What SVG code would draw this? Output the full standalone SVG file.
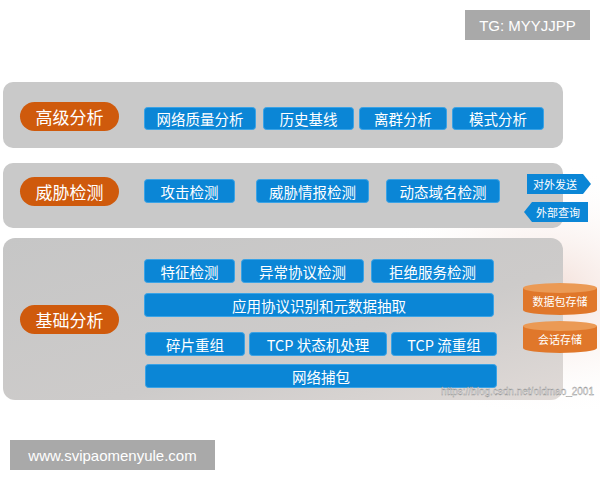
<svg xmlns="http://www.w3.org/2000/svg" width="600" height="480" viewBox="0 0 600 480">
<defs>
<style>
.panel{fill:#c9c9c9}
.pill{fill:#cf5a0c}
.box{fill:#0b86d6;stroke:#3aa3e6;stroke-width:1}
.t{font-family:"Noto Sans CJK SC","Noto Sans",sans-serif;fill:#fff;text-anchor:middle;dominant-baseline:central}
.big{font-size:17px}
.mid{font-size:14.5px}
.sm{font-size:11px}
.wm{font-family:"Liberation Sans",Arial,sans-serif;fill:#fff;text-anchor:middle;dominant-baseline:central;font-size:15px}
.cyl{fill:#e0772a}
.cyltop{fill:#eb9a55}
</style>
<linearGradient id="p3" x1="0" y1="0" x2="1" y2="1">
<stop offset="0" stop-color="#c6c6c6"/>
<stop offset="0.6" stop-color="#cdcbca"/>
<stop offset="1" stop-color="#e0dad7"/>
</linearGradient>
<radialGradient id="bg" cx="0.85" cy="0.55" r="0.5">
<stop offset="0" stop-color="#f2ddd6"/>
<stop offset="1" stop-color="#ffffff" stop-opacity="0"/>
</radialGradient>
</defs>
<rect width="600" height="480" fill="#fff"/>
<rect x="250" y="150" width="350" height="260" fill="url(#bg)"/>

<g id="panel-advanced">
<rect class="panel" x="3" y="82" width="560" height="66" rx="10"/>
<g id="pill-advanced"><rect class="pill" x="20" y="102" width="99" height="29" rx="14.5"/><text class="t big" x="69.5" y="116.5">高级分析</text></g>
<g id="n-net-quality"><rect class="box" x="144.5" y="107.5" width="111" height="22" rx="3"/><text class="t mid" x="200" y="118.5">网络质量分析</text></g>
<g id="n-history"><rect class="box" x="263.5" y="107.5" width="90" height="22" rx="3"/><text class="t mid" x="308.5" y="118.5">历史基线</text></g>
<g id="n-outlier"><rect class="box" x="359.5" y="107.5" width="87" height="22" rx="3"/><text class="t mid" x="403" y="118.5">离群分析</text></g>
<g id="n-pattern"><rect class="box" x="452.5" y="107.5" width="91" height="22" rx="3"/><text class="t mid" x="498" y="118.5">模式分析</text></g>
</g>

<g id="panel-threat">
<rect class="panel" x="3" y="163" width="560" height="65" rx="10"/>
<g id="pill-threat"><rect class="pill" x="20" y="177" width="99" height="29" rx="14.5"/><text class="t big" x="69.5" y="191.5">威胁检测</text></g>
<g id="n-attack"><rect class="box" x="144.5" y="179.5" width="90" height="23" rx="3"/><text class="t mid" x="189.5" y="191">攻击检测</text></g>
<g id="n-intel"><rect class="box" x="256.5" y="179.5" width="112" height="23" rx="3"/><text class="t mid" x="312.5" y="191">威胁情报检测</text></g>
<g id="n-dga"><rect class="box" x="386.5" y="179.5" width="113" height="23" rx="3"/><text class="t mid" x="443" y="191">动态域名检测</text></g>
</g>

<g id="n-send"><path d="M527,174 H583 L591,184 L583,194 H527 Z" fill="#0b86d6"/><text class="t sm" x="555" y="184">对外发送</text></g>
<g id="n-query"><path d="M532,202 H588 V222 H532 L524,212 Z" fill="#0b86d6"/><text class="t sm" x="558" y="212">外部查询</text></g>

<g id="panel-basic">
<rect x="3" y="238" width="560" height="162" rx="12" fill="url(#p3)"/>
<g id="pill-basic"><rect class="pill" x="20" y="305" width="99" height="29" rx="14.5"/><text class="t big" x="69.5" y="319.5">基础分析</text></g>
<g id="n-signature"><rect class="box" x="144.5" y="259.5" width="90" height="23" rx="3"/><text class="t mid" x="189.5" y="271">特征检测</text></g>
<g id="n-anomaly"><rect class="box" x="241.5" y="259.5" width="122" height="23" rx="3"/><text class="t mid" x="302.5" y="271">异常协议检测</text></g>
<g id="n-dos"><rect class="box" x="371.5" y="259.5" width="122" height="23" rx="3"/><text class="t mid" x="432.5" y="271">拒绝服务检测</text></g>
<g id="n-app"><rect class="box" x="144.5" y="293.5" width="349" height="23" rx="3"/><text class="t mid" x="319" y="305">应用协议识别和元数据抽取</text></g>
<g id="n-frag"><rect class="box" x="145.5" y="332.5" width="99" height="23" rx="3"/><text class="t mid" x="195" y="344">碎片重组</text></g>
<g id="n-tcpstate"><rect class="box" x="249.5" y="332.5" width="137" height="23" rx="3"/><text class="t mid" x="318" y="344">TCP 状态机处理</text></g>
<g id="n-tcpflow"><rect class="box" x="391.5" y="332.5" width="105" height="23" rx="3"/><text class="t mid" x="444" y="344">TCP 流重组</text></g>
<g id="n-capture"><rect class="box" x="145.5" y="364.5" width="351" height="23" rx="3"/><text class="t mid" x="321" y="376">网络捕包</text></g>
</g>

<g id="n-pktstore">
<path class="cyl" d="M523,288 V310 A37,5 0 0 0 597,310 V288 Z"/>
<ellipse class="cyltop" cx="560" cy="288" rx="37" ry="5"/>
<text class="t sm" x="560" y="301">数据包存储</text>
</g>
<g id="n-sessstore">
<path class="cyl" d="M523,326 V348 A37,5 0 0 0 597,348 V326 Z"/>
<ellipse class="cyltop" cx="560" cy="326" rx="37" ry="5"/>
<text class="t sm" x="560" y="339">会话存储</text>
</g>

<g id="connectors"/>

<text x="594" y="391" font-family="Liberation Sans,Arial,sans-serif" font-size="10" fill="#f4f4f4" text-anchor="end" dominant-baseline="central" stroke="#8a8a8a" stroke-width="0.35">https://blog.csdn.net/oldmao_2001</text>

<g id="tg"><rect x="465" y="10" width="125" height="30" fill="#a9a9a9"/><text class="wm" x="527.5" y="25">TG: MYYJJPP</text></g>
<g id="site"><rect x="10" y="440" width="205" height="30" fill="#a9a9a9"/><text class="wm" x="112.5" y="455">www.svipaomenyule.com</text></g>
</svg>
